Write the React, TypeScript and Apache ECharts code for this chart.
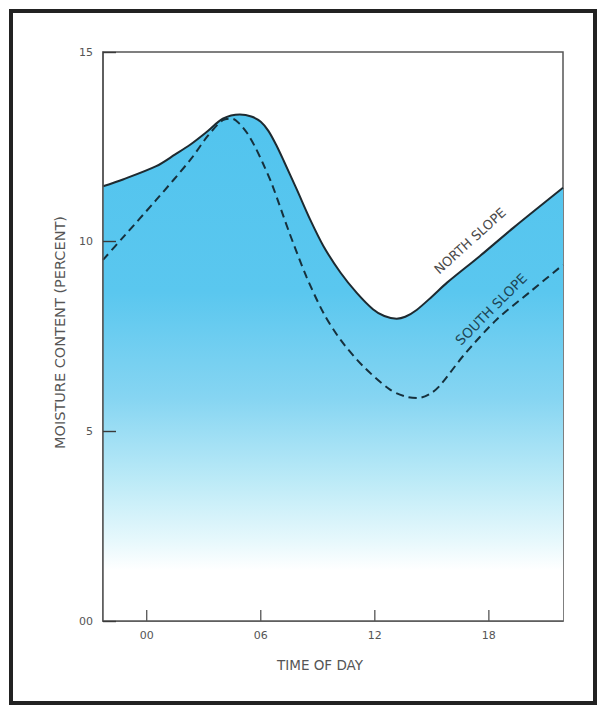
import React, { useEffect, useRef } from "react";
import * as echarts from "echarts";

const northSlope: [number, number][] = [
  [-2.3, 11.46], [-1.25, 11.64], [0.5, 11.99], [1.5, 12.3], [2.3, 12.56], [3.2, 12.91],
  [4.0, 13.24], [4.9, 13.35], [5.5, 13.3], [6.0, 13.16], [6.4, 12.92], [6.8, 12.56],
  [7.2, 12.14], [7.9, 11.37], [8.6, 10.58], [9.3, 9.88], [10.2, 9.18], [11.05, 8.65],
  [11.9, 8.22], [12.5, 8.04], [13.15, 7.97], [13.6, 8.02], [14.2, 8.2], [15.0, 8.55],
  [15.8, 8.92], [17.5, 9.61], [19.3, 10.37], [21.9, 11.42],
];

const southSlope: [number, number][] = [
  [-2.3, 9.52], [-1.2, 10.14], [0.5, 11.1], [2.3, 12.16], [3.2, 12.78], [4.0, 13.2],
  [4.5, 13.24], [4.9, 13.1], [5.3, 12.85], [5.7, 12.5], [6.1, 12.08], [6.6, 11.5],
  [7.5, 10.24], [8.4, 9.08], [9.3, 8.12], [10.2, 7.41], [11.4, 6.71], [12.8, 6.1],
  [13.6, 5.92], [14.3, 5.88], [15.0, 6.02], [15.5, 6.25], [16.7, 7.02], [18.4, 7.94],
  [20.2, 8.69], [21.9, 9.39],
];

const X_MIN = -2.3;
const X_MAX = 21.9;
const Y_MIN = 0;
const Y_MAX = 15;
const xTickValues = [0, 6, 12, 18];
const xTickLabels = ["00", "06", "12", "18"];
const yTickLabels: Record<number, string> = { 0: "00", 5: "5", 10: "10", 15: "15" };

const FONT = "DejaVu Sans";
const GRAY = "#555";

export default function App() {
  const ref = useRef<HTMLDivElement>(null);
  useEffect(() => {
    if (!ref.current) return;
    const chart = echarts.init(ref.current, null, { renderer: "svg" });
    chart.setOption({
      animation: false,
      backgroundColor: "#ffffff",
      grid: {
        left: 103,
        right: 39,
        top: 52,
        bottom: 85,
        show: true,
        borderColor: GRAY,
        borderWidth: 1.5,
        backgroundColor: "transparent",
      },
      xAxis: {
        type: "value",
        min: X_MIN,
        max: X_MAX,
        z: 6,
        splitLine: { show: false },
        axisLine: { show: true, onZero: false, lineStyle: { color: GRAY, width: 1.5 } },
        axisTick: { show: false },
        axisLabel: {
          customValues: xTickValues,
          margin: 9,
          color: GRAY,
          fontFamily: FONT,
          fontSize: 11,
          formatter: (v: number) => xTickLabels[xTickValues.indexOf(v)] ?? "",
        },
        name: "TIME OF DAY",
        nameLocation: "middle",
        nameGap: 37,
        nameTextStyle: {
          color: GRAY,
          fontFamily: FONT,
          fontSize: 13.5,
          padding: [0, 26, 0, 0],
        },
      },
      yAxis: {
        type: "value",
        min: Y_MIN,
        max: Y_MAX,
        interval: 5,
        z: 6,
        splitLine: { show: false },
        axisLine: { show: true, onZero: false, lineStyle: { color: GRAY, width: 1.5 } },
        axisTick: {
          show: true,
          inside: true,
          length: 13,
          lineStyle: { color: "#3a3a3a", width: 1.4 },
        },
        axisLabel: {
          margin: 10,
          color: GRAY,
          fontFamily: FONT,
          fontSize: 11,
          formatter: (v: number) => yTickLabels[v] ?? String(v),
        },
        name: "MOISTURE CONTENT (PERCENT)",
        nameLocation: "middle",
        nameGap: 36,
        nameRotate: 90,
        nameTextStyle: { color: GRAY, fontFamily: FONT, fontSize: 14.5, padding: [0, 0, 0, 8] },
      },
      series: [
        {
          name: "North slope",
          type: "line",
          data: northSlope,
          smooth: 0.3,
          showSymbol: false,
          lineStyle: { color: "#1e2a30", width: 2 },
          areaStyle: {
            opacity: 1,
            color: new echarts.graphic.LinearGradient(
              0, 115, 0, 621,
              [
                { offset: 0, color: "#52c4ee" },
                { offset: 0.35, color: "#5ac7ef" },
                { offset: 0.56, color: "#86d5f2" },
                { offset: 0.72, color: "#bbeaf7" },
                { offset: 0.84, color: "#e6f8fc" },
                { offset: 0.9, color: "#ffffff" },
                { offset: 1, color: "#ffffff" },
              ],
              true
            ),
          },
          z: 2,
        },
        {
          name: "South slope",
          type: "line",
          data: southSlope,
          smooth: 0.3,
          showSymbol: false,
          lineStyle: { color: "#16303c", width: 2, type: [8, 5] },
          z: 3,
        },
        {
          name: "x ticks",
          type: "custom",
          data: xTickValues.map((v) => [v]),
          silent: true,
          z: 7,
          renderItem: (_params: any, api: any) => {
            const p = api.coord([api.value(0), Y_MIN]);
            return {
              type: "line",
              shape: { x1: p[0], y1: p[1], x2: p[0], y2: p[1] - 11 },
              style: { stroke: GRAY, lineWidth: 1.3 },
            };
          },
        },
      ],
      graphic: [
        {
          type: "rect",
          shape: { x: 11, y: 11, width: 584, height: 692 },
          style: { fill: "none", stroke: "#222", lineWidth: 4 },
          silent: true,
        },
        {
          type: "text",
          x: 470,
          y: 241,
          rotation: (42 * Math.PI) / 180,
          style: {
            text: "NORTH SLOPE",
            fill: "#4a4a4a",
            font: `13px "${FONT}"`,
            align: "center",
            verticalAlign: "middle",
          },
          z: 10,
        },
        {
          type: "text",
          x: 491,
          y: 309,
          rotation: (45 * Math.PI) / 180,
          style: {
            text: "SOUTH SLOPE",
            fill: "#1d4656",
            font: `13.5px "${FONT}"`,
            align: "center",
            verticalAlign: "middle",
          },
          z: 10,
        },
      ],
    });
    return () => chart.dispose();
  }, []);
  return (
    <div
      ref={ref}
      style={{ position: "fixed", left: 0, top: 0, width: 602, height: 706 }}
    />
  );
}
